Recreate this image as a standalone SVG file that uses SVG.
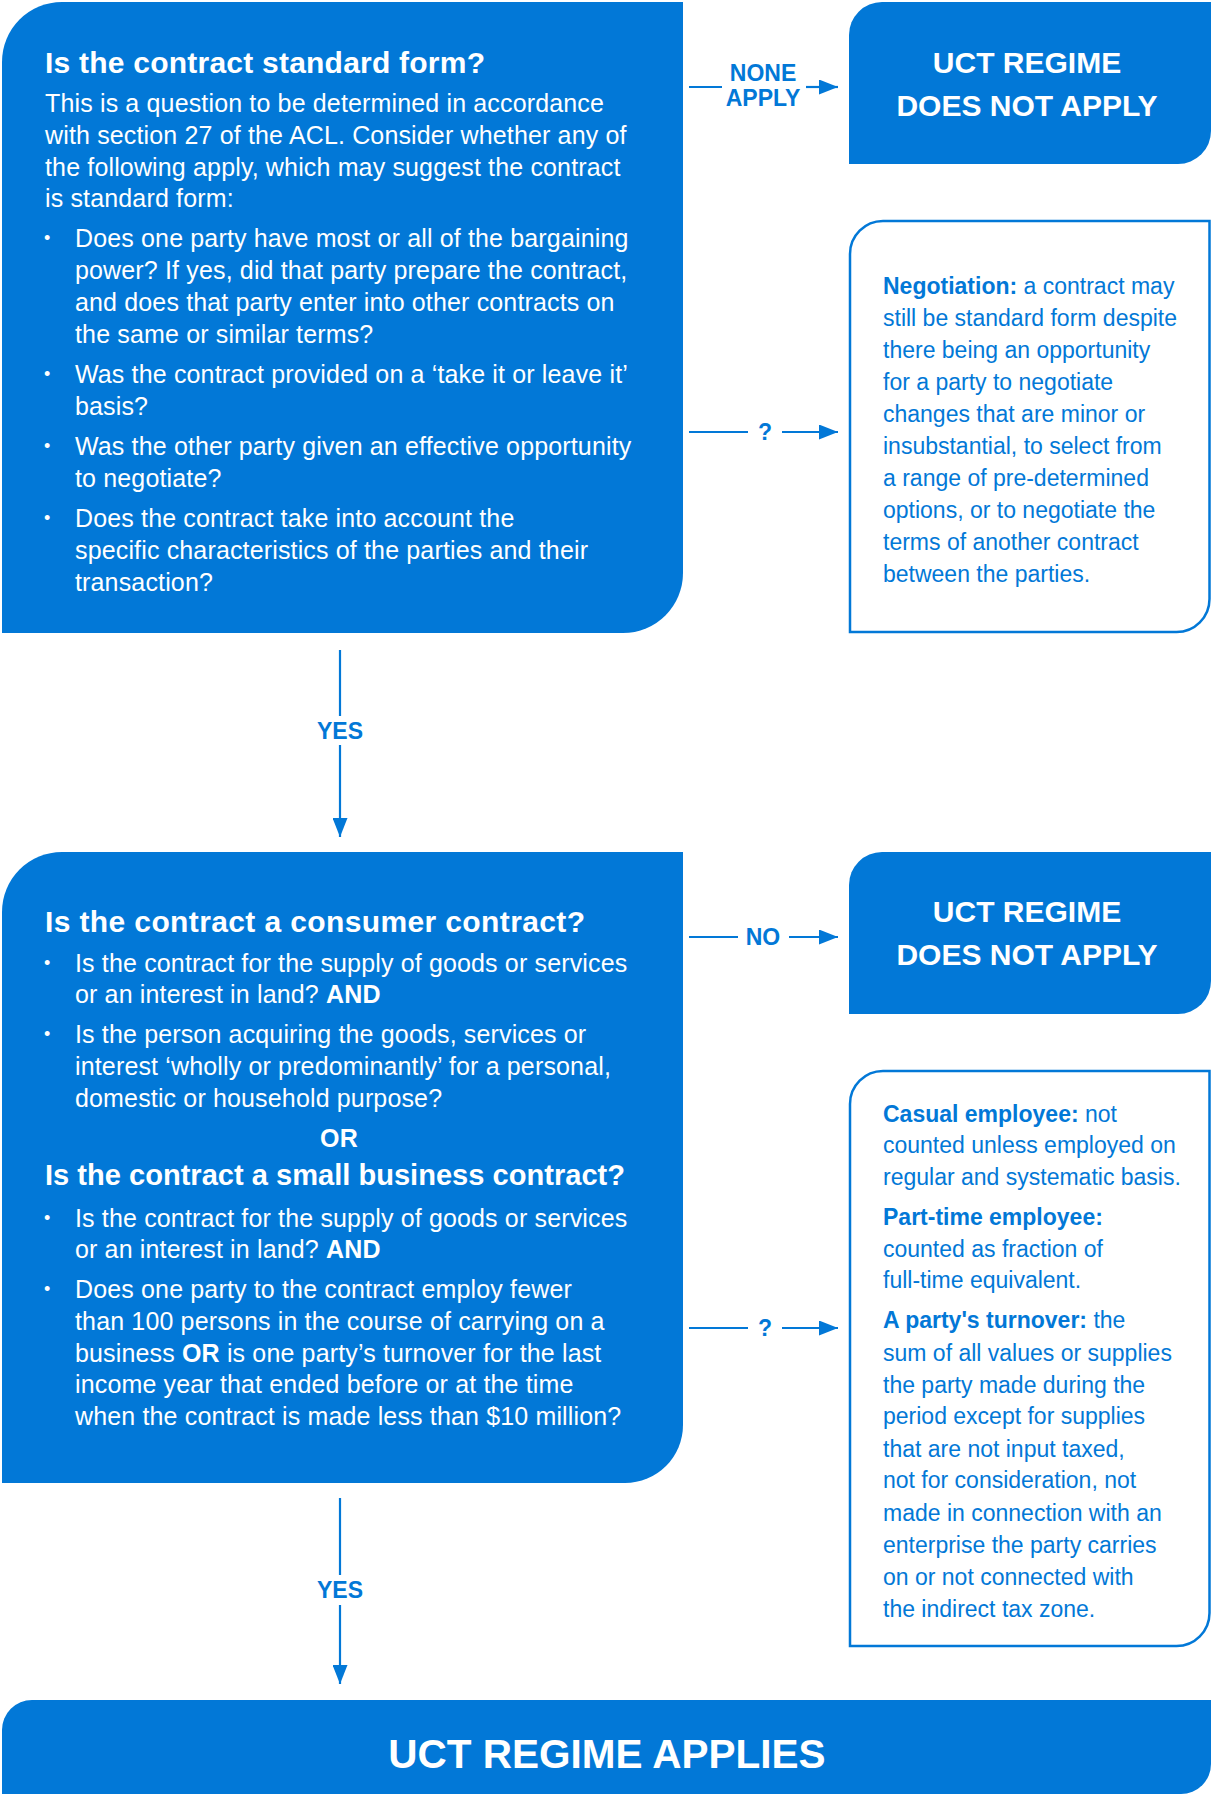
<svg xmlns="http://www.w3.org/2000/svg" width="1212" height="1796" viewBox="0 0 1212 1796">
  <style>
    .fill { fill: #0278d7; }
    .outline { fill: #ffffff; stroke: #0278d7; stroke-width: 2.5; }
    .t { font-family: "Liberation Sans", Arial, Helvetica, sans-serif; }
    .q { font-size: 30px; font-weight: bold; fill: #ffffff; }
    .body { font-size: 25px; fill: #ffffff; letter-spacing: 0.15px; }
    .bul { font-size: 18px; fill: #ffffff; }
    .res { font-size: 30px; font-weight: bold; fill: #ffffff; text-anchor: middle; }
    .note { font-size: 23px; fill: #0278d7; }
    .lbl { font-size: 23px; font-weight: bold; fill: #0278d7; text-anchor: middle; }
    .b { font-weight: bold; }
    .conn { stroke: #0278d7; stroke-width: 2.2; fill: none; }
    .head { marker-end: url(#arrow); }
  </style>
  <defs>
    <marker id="arrow" markerUnits="userSpaceOnUse" markerWidth="19" markerHeight="15" refX="19" refY="7.5" orient="auto">
      <path d="M0,0 L19,7.5 L0,15 Z" fill="#0278d7"/>
    </marker>
  </defs>

  <!-- Question 1: standard form -->
  <g id="q-standard-form">
    <path class="fill" d="M2,62 A60,60 0 0 1 62,2 H683 V573 A60,60 0 0 1 623,633 H2 Z"/>
    <text class="t q" x="45" y="73" textLength="440" lengthAdjust="spacing">Is the contract standard form?</text>
    <text class="t body" x="45" y="112">This is a question to be determined in accordance</text>
    <text class="t body" x="45" y="144">with section 27 of the ACL. Consider whether any of</text>
    <text class="t body" x="45" y="176">the following apply, which may suggest the contract</text>
    <text class="t body" x="45" y="207">is standard form:</text>
    <text class="t bul" x="44" y="244">•</text>
    <text class="t body" x="75" y="247">Does one party have most or all of the bargaining</text>
    <text class="t body" x="75" y="279">power? If yes, did that party prepare the contract,</text>
    <text class="t body" x="75" y="311">and does that party enter into other contracts on</text>
    <text class="t body" x="75" y="343">the same or similar terms?</text>
    <text class="t bul" x="44" y="380">•</text>
    <text class="t body" x="75" y="383">Was the contract provided on a ‘take it or leave it’</text>
    <text class="t body" x="75" y="415">basis?</text>
    <text class="t bul" x="44" y="452">•</text>
    <text class="t body" x="75" y="455">Was the other party given an effective opportunity</text>
    <text class="t body" x="75" y="487">to negotiate?</text>
    <text class="t bul" x="44" y="524">•</text>
    <text class="t body" x="75" y="527">Does the contract take into account the</text>
    <text class="t body" x="75" y="559">specific characteristics of the parties and their</text>
    <text class="t body" x="75" y="591">transaction?</text>
  </g>

  <!-- Outcome: regime does not apply (top) -->
  <g id="not-apply-1">
    <path class="fill" d="M849,35 A33,33 0 0 1 882,2 H1211 V131 A33,33 0 0 1 1178,164 H849 Z"/>
    <text class="t res" x="1027" y="73">UCT REGIME</text>
    <text class="t res" x="1027" y="116">DOES NOT APPLY</text>
  </g>

  <!-- Note: negotiation -->
  <g id="note-negotiation">
    <path class="outline" d="M850,254 A33,33 0 0 1 883,221 H1209.5 V599 A33,33 0 0 1 1176.5,632 H850 Z"/>
    <text class="t note" x="883" y="294"><tspan class="b">Negotiation:</tspan> a contract may</text>
    <text class="t note" x="883" y="326">still be standard form despite</text>
    <text class="t note" x="883" y="358">there being an opportunity</text>
    <text class="t note" x="883" y="390">for a party to negotiate</text>
    <text class="t note" x="883" y="422">changes that are minor or</text>
    <text class="t note" x="883" y="454">insubstantial, to select from</text>
    <text class="t note" x="883" y="486">a range of pre-determined</text>
    <text class="t note" x="883" y="518">options, or to negotiate the</text>
    <text class="t note" x="883" y="550">terms of another contract</text>
    <text class="t note" x="883" y="582">between the parties.</text>
  </g>

  <!-- Question 2: consumer or small business contract -->
  <g id="q-consumer-small-business">
    <path class="fill" d="M2,912 A60,60 0 0 1 62,852 H683 V1425 A58,58 0 0 1 625,1483 H2 Z"/>
    <text class="t q" x="45" y="932" textLength="540" lengthAdjust="spacing">Is the contract a consumer contract?</text>
    <text class="t bul" x="44" y="969">•</text>
    <text class="t body" x="75" y="972">Is the contract for the supply of goods or services</text>
    <text class="t body" x="75" y="1003">or an interest in land? <tspan class="b">AND</tspan></text>
    <text class="t bul" x="44" y="1040">•</text>
    <text class="t body" x="75" y="1043">Is the person acquiring the goods, services or</text>
    <text class="t body" x="75" y="1075">interest ‘wholly or predominantly’ for a personal,</text>
    <text class="t body" x="75" y="1107">domestic or household purpose?</text>
    <text class="t body b" x="339" y="1147" text-anchor="middle">OR</text>
    <text class="t q" x="45" y="1185" textLength="580" lengthAdjust="spacingAndGlyphs">Is the contract a small business contract?</text>
    <text class="t bul" x="44" y="1224">•</text>
    <text class="t body" x="75" y="1227">Is the contract for the supply of goods or services</text>
    <text class="t body" x="75" y="1258">or an interest in land? <tspan class="b">AND</tspan></text>
    <text class="t bul" x="44" y="1295">•</text>
    <text class="t body" x="75" y="1298">Does one party to the contract employ fewer</text>
    <text class="t body" x="75" y="1330">than 100 persons in the course of carrying on a</text>
    <text class="t body" x="75" y="1362">business <tspan class="b">OR</tspan> is one party’s turnover for the last</text>
    <text class="t body" x="75" y="1393">income year that ended before or at the time</text>
    <text class="t body" x="75" y="1425">when the contract is made less than $10 million?</text>
  </g>

  <!-- Outcome: regime does not apply (middle) -->
  <g id="not-apply-2">
    <path class="fill" d="M849,885 A33,33 0 0 1 882,852 H1211 V981 A33,33 0 0 1 1178,1014 H849 Z"/>
    <text class="t res" x="1027" y="922">UCT REGIME</text>
    <text class="t res" x="1027" y="965">DOES NOT APPLY</text>
  </g>

  <!-- Note: employee counts and turnover -->
  <g id="note-employees-turnover">
    <path class="outline" d="M850,1104 A33,33 0 0 1 883,1071 H1209.5 V1613 A33,33 0 0 1 1176.5,1646 H850 Z"/>
    <text class="t note" x="883" y="1122"><tspan class="b">Casual employee:</tspan> not</text>
    <text class="t note" x="883" y="1153">counted unless employed on</text>
    <text class="t note" x="883" y="1185">regular and systematic basis.</text>
    <text class="t note b" x="883" y="1225">Part-time employee:</text>
    <text class="t note" x="883" y="1257">counted as fraction of</text>
    <text class="t note" x="883" y="1288">full-time equivalent.</text>
    <text class="t note" x="883" y="1328"><tspan class="b">A party's turnover:</tspan> the</text>
    <text class="t note" x="883" y="1361">sum of all values or supplies</text>
    <text class="t note" x="883" y="1393">the party made during the</text>
    <text class="t note" x="883" y="1424">period except for supplies</text>
    <text class="t note" x="883" y="1457">that are not input taxed,</text>
    <text class="t note" x="883" y="1488">not for consideration, not</text>
    <text class="t note" x="883" y="1521">made in connection with an</text>
    <text class="t note" x="883" y="1553">enterprise the party carries</text>
    <text class="t note" x="883" y="1585">on or not connected with</text>
    <text class="t note" x="883" y="1617">the indirect tax zone.</text>
  </g>

  <!-- Outcome: regime applies -->
  <g id="applies">
    <path class="fill" d="M2,1730 A30,30 0 0 1 32,1700 H1211 V1764 A30,30 0 0 1 1181,1794 H2 Z"/>
    <text class="t" x="607" y="1768" font-size="40.5" font-weight="bold" fill="#ffffff" text-anchor="middle">UCT REGIME APPLIES</text>
  </g>

  <!-- Connectors -->
  <g id="connectors">
    <line class="conn" x1="689" y1="87" x2="722" y2="87"/>
    <line class="conn head" x1="806" y1="87" x2="838" y2="87"/>
    <text class="t lbl" x="763" y="81">NONE</text>
    <text class="t lbl" x="763" y="106">APPLY</text>

    <line class="conn" x1="689" y1="432" x2="748" y2="432"/>
    <line class="conn head" x1="782" y1="432" x2="838" y2="432"/>
    <text class="t lbl" x="765" y="440">?</text>

    <line class="conn" x1="340" y1="650" x2="340" y2="716"/>
    <line class="conn head" x1="340" y1="745" x2="340" y2="837"/>
    <text class="t lbl" x="340" y="739">YES</text>

    <line class="conn" x1="689" y1="937" x2="738" y2="937"/>
    <line class="conn head" x1="789" y1="937" x2="838" y2="937"/>
    <text class="t lbl" x="763" y="945">NO</text>

    <line class="conn" x1="689" y1="1328" x2="748" y2="1328"/>
    <line class="conn head" x1="782" y1="1328" x2="838" y2="1328"/>
    <text class="t lbl" x="765" y="1336">?</text>

    <line class="conn" x1="340" y1="1498" x2="340" y2="1575"/>
    <line class="conn head" x1="340" y1="1605" x2="340" y2="1684"/>
    <text class="t lbl" x="340" y="1598">YES</text>
  </g>
</svg>
